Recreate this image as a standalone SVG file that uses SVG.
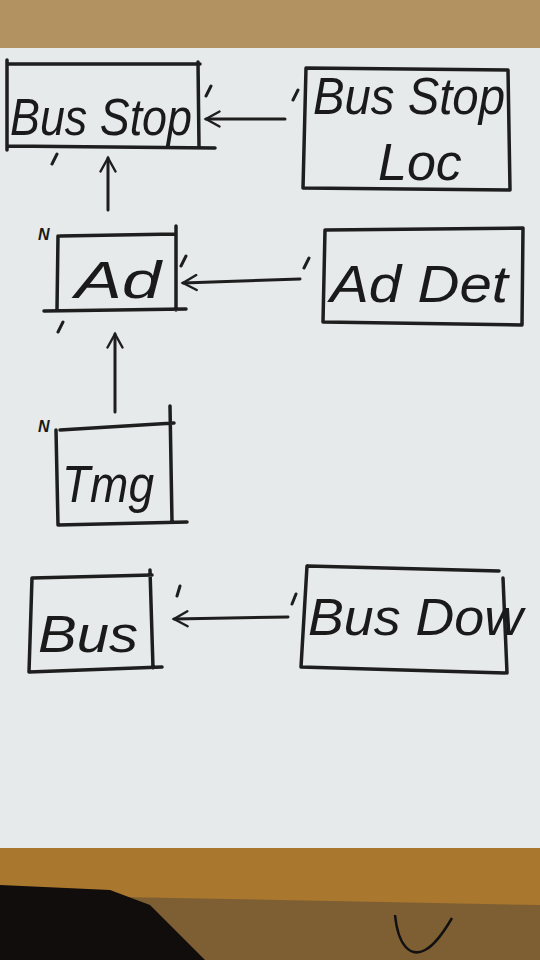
<svg xmlns="http://www.w3.org/2000/svg" width="540" height="960" viewBox="0 0 540 960">
<style>
.box{fill:none;stroke:#1e1e1e;stroke-width:3.5;stroke-linecap:round;stroke-linejoin:round}
.ln{fill:none;stroke:#1e1e1e;stroke-width:3;stroke-linecap:round}
.t{font-family:"Liberation Sans",Arial,sans-serif;font-style:italic;fill:#1a1a1a;font-size:52px}
.m{font-family:"Liberation Sans",Arial,sans-serif;font-style:italic;fill:#1a1a1a;font-size:16px;font-weight:bold}
</style>
<defs>
<marker id="ah" viewBox="0 0 12 12" refX="10" refY="6" markerWidth="6" markerHeight="6" orient="auto" markerUnits="strokeWidth">
<path d="M1,1 L10,6 L1,11" fill="none" stroke="#1e1e1e" stroke-width="1.6" stroke-linecap="round"/>
</marker>
</defs>
<rect x="0" y="0" width="540" height="960" fill="#b19260"/>
<rect x="0" y="48" width="540" height="802" fill="#e6eaea"/>
<rect x="0" y="848" width="540" height="112" fill="#a9772d"/>
<path d="M0,895 L120,897 L540,905 L540,960 L0,960 Z" fill="#7e5f33"/>
<path d="M0,885 L110,890 L150,905 L205,960 L0,960 Z" fill="#100d0c"/>
<path d="M395,915 C398,945 410,958 425,950 C435,945 445,930 452,918" fill="none" stroke="#111" stroke-width="2.5"/>

<g id="connectors">
<line class="ln" x1="285" y1="119" x2="206" y2="119" marker-end="url(#ah)"/>
<line class="ln" x1="108" y1="210" x2="108" y2="158" marker-end="url(#ah)"/>
<line class="ln" x1="300" y1="279" x2="183" y2="283" marker-end="url(#ah)"/>
<line class="ln" x1="115" y1="412" x2="115" y2="334" marker-end="url(#ah)"/>
<line class="ln" x1="288" y1="617" x2="174" y2="619" marker-end="url(#ah)"/>
<path class="ln" d="M206,96 L211,86 M293,100 L298,90 M52,164 L57,154 M181,266 L186,256 M58,332 L63,322 M304,268 L309,258 M177,596 L180,586 M292,604 L296,594"/>
</g>

<g id="bus-stop">
<path class="box" d="M7,60 L7,150 M7,64 L200,64 M198,62 L199,147 M7,146 L215,148"/>
<text class="t" x="10" y="135" textLength="182" lengthAdjust="spacingAndGlyphs">Bus Stop</text>
</g>
<g id="bus-stop-loc">
<path class="box" d="M306,68 L508,70 L510,190 L303,188 Z"/>
<text class="t" x="313" y="114" textLength="192" lengthAdjust="spacingAndGlyphs">Bus Stop</text>
<text class="t" x="378" y="180">Loc</text>
</g>
<g id="ad">
<path class="box" d="M60,236 L176,234 M176,226 L176,310 M58,236 L57,310 M44,311 L186,309"/>
<text class="m" x="38" y="240">N</text>
<text class="t" x="75" y="298" font-size="62" textLength="86" lengthAdjust="spacingAndGlyphs">Ad</text>
</g>
<g id="ad-det">
<path class="box" d="M325,230 L523,228 L522,325 L323,322 Z"/>
<text class="t" x="330" y="302" font-size="58" textLength="178" lengthAdjust="spacingAndGlyphs">Ad  Det</text>
</g>
<g id="img">
<path class="box" d="M60,430 L174,423 M170,406 L172,522 M56,430 L58,525 M58,525 L187,522"/>
<text class="m" x="38" y="432">N</text>
<text class="t" x="62" y="502" font-size="56" textLength="92" lengthAdjust="spacingAndGlyphs">Tmg</text>
</g>
<g id="bus">
<path class="box" d="M32,578 L152,575 M150,570 L153,668 M32,578 L29,672 M29,672 L162,667"/>
<text class="t" x="38" y="652" font-size="64" textLength="100" lengthAdjust="spacingAndGlyphs">Bus</text>
</g>
<g id="bus-dow">
<path class="box" d="M308,566 L499,571 M503,578 L507,673 M307,566 L301,667 L505,673"/>
<text class="t" x="308" y="635" font-size="56" textLength="215" lengthAdjust="spacingAndGlyphs">Bus  Dow</text>
</g>
</svg>
